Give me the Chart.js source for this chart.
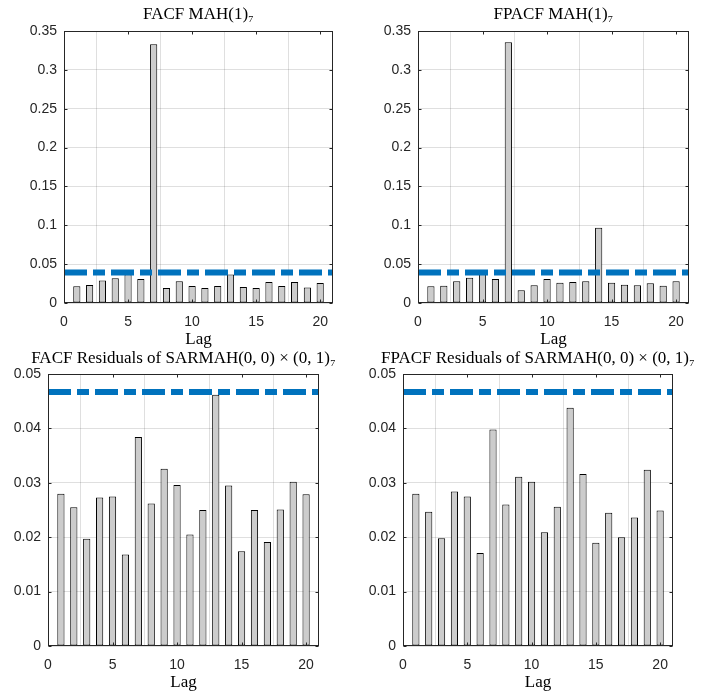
<!DOCTYPE html>
<html>
<head>
<meta charset="utf-8">
<script src="https://cdn.jsdelivr.net/npm/chart.js@4.4.1/dist/chart.umd.min.js"></script>
<style>
  html, body { margin: 0; padding: 0; background: #fff; }
  body { width: 705px; height: 691px; position: relative; overflow: hidden; }
  .panel { position: absolute; }
</style>
</head>
<body>
<!-- each panel box is centred on its plot area so the title centres over the axes -->
<div class="panel" style="left:18px;top:0;width:361px;height:348px"><canvas id="c1"></canvas></div>
<div class="panel" style="left:373px;top:0;width:361px;height:348px"><canvas id="c2"></canvas></div>
<div class="panel" style="left:3px;top:343px;width:361px;height:348px"><canvas id="c3"></canvas></div>
<div class="panel" style="left:357px;top:343px;width:362px;height:348px"><canvas id="c4"></canvas></div>
<script>
// lags and values
const lags = [1, 2, 3, 4, 5, 6, 7, 8, 9, 10, 11, 12, 13, 14, 15, 16, 17, 18, 19, 20];
const facfMah = [0.0214, 0.0231, 0.0291, 0.0317, 0.037, 0.0308, 0.333, 0.0193, 0.0279, 0.0219,
                 0.0193, 0.0219, 0.0368, 0.0206, 0.0193, 0.027, 0.0219, 0.027, 0.0201, 0.0257];
const fpacfMah = [0.0214, 0.0223, 0.0279, 0.0326, 0.037, 0.0308, 0.3355, 0.0163, 0.0227, 0.0308,
                  0.0261, 0.027, 0.0279, 0.0968, 0.0261, 0.0236, 0.0227, 0.0253, 0.0223, 0.0279];
const facfRes = [0.0280, 0.0255, 0.0197, 0.0273, 0.0275, 0.0168, 0.0384, 0.0262, 0.0326, 0.0296,
                 0.0205, 0.0250, 0.0462, 0.0295, 0.0174, 0.0250, 0.0191, 0.0251, 0.0302, 0.0279];
const fpacfRes = [0.0280, 0.0247, 0.0198, 0.0284, 0.0275, 0.0171, 0.0398, 0.0260, 0.0311, 0.0302,
                  0.0209, 0.0256, 0.0438, 0.0316, 0.0190, 0.0245, 0.0200, 0.0236, 0.0324, 0.0249];
const bounds = [0.0394, 0.0394, 0.0467, 0.0467]; // dashed confidence bound per panel
const boundSpan = [0, 21];
const titles = [
  "FACF MAH(1)\u2087",
  "FPACF MAH(1)\u2087",
  "FACF Residuals of SARMAH(0, 0) \u00d7 (0, 1)\u2087",
  "FPACF Residuals of SARMAH(0, 0) \u00d7 (0, 1)\u2087"
];
const yMax = [0.35, 0.35, 0.05, 0.05];
const yStep = [0.05, 0.05, 0.01, 0.01];

Chart.defaults.font.family = "'Liberation Sans', Arial, sans-serif";
Chart.defaults.color = "#262626";

// box around the axes with inward ticks on all four sides (matlab style)
const framePlugin = {
  id: "frame",
  afterDraw(chart) {
    const { ctx, chartArea: a, scales } = chart;
    const L = Math.round(a.left) + 0.5, R = Math.round(a.right) - 0.5;
    const T = Math.round(a.top) + 0.5, B = Math.round(a.bottom) - 0.5;
    ctx.save();
    ctx.strokeStyle = "#262626";
    ctx.lineWidth = 1;
    ctx.strokeRect(L, T, R - L, B - T);
    ctx.beginPath();
    scales.x.ticks.forEach(t => {
      const px = Math.round(scales.x.getPixelForValue(t.value)) + 0.5;
      ctx.moveTo(px, B); ctx.lineTo(px, B - 3);
      ctx.moveTo(px, T); ctx.lineTo(px, T + 3);
    });
    scales.y.ticks.forEach(t => {
      const py = Math.round(scales.y.getPixelForValue(t.value)) + 0.5;
      ctx.moveTo(L, py); ctx.lineTo(L + 3, py);
      ctx.moveTo(R, py); ctx.lineTo(R - 3, py);
    });
    ctx.stroke();
    ctx.restore();
  }
};

function makePanel(id, i, values, yAxisWidth, padRight, titlePad) {
  const ctx = document.getElementById(id).getContext("2d");
  return new Chart(ctx, {
    type: "bar",
    data: {
      datasets: [
        {
          type: "line",
          data: boundSpan.map(x => ({ x: x, y: bounds[i] })),
          borderColor: "#0072BD",
          borderWidth: 6,
          borderDash: [23, 6, 12, 6],
          borderCapStyle: "butt",
          pointRadius: 0,
          fill: false,
          order: 0
        },
        {
          type: "bar",
          data: lags.map((x, k) => ({ x: x, y: values[k] })),
          backgroundColor: "#cccccc",
          borderColor: "#000000",
          borderWidth: 1,
          borderSkipped: false,
          barPercentage: 0.56,
          categoryPercentage: 1,
          order: 1
        }
      ]
    },
    options: {
      responsive: true,
      maintainAspectRatio: false,
      animation: false,
      layout: { padding: 0 },
      plugins: {
        legend: { display: false },
        tooltip: { enabled: false },
        title: {
          display: true,
          text: titles[i],
          color: "#000000",
          font: { family: "'Liberation Serif', 'DejaVu Serif', serif", size: 17, weight: "normal", lineHeight: 1 },
          padding: titlePad
        }
      },
      scales: {
        x: {
          type: "linear",
          min: 0,
          max: 21,
          offset: false,
          grid: { color: "rgba(38,38,38,0.15)", drawTicks: false },
          border: { display: false },
          ticks: { stepSize: 5, includeBounds: false, padding: 11, font: { size: 14 }, maxRotation: 0 },
          title: {
            display: true,
            text: "Lag",
            color: "#000000",
            font: { family: "'Liberation Serif', 'DejaVu Serif', serif", size: 17, lineHeight: 1 },
            padding: { top: 0, bottom: 0 }
          },
          afterFit(scale) { scale.height = 45; }
        },
        y: {
          min: 0,
          max: yMax[i],
          grid: { color: "rgba(38,38,38,0.15)", drawTicks: false },
          border: { display: false },
          ticks: {
            stepSize: yStep[i],
            padding: 7,
            font: { size: 14 },
            callback: v => String(Math.round(v * 10000) / 10000)
          },
          afterFit(scale) { scale.width = yAxisWidth; }
        },
        // empty right-hand axis, only there to keep the plot area centred under the title
        spacer: {
          type: "linear",
          position: "right",
          grid: { display: false },
          border: { display: false },
          ticks: { display: false },
          afterFit(scale) { scale.width = padRight; }
        }
      }
    },
    plugins: [framePlugin]
  });
}

makePanel("c1", 0, facfMah, 46, 46, { top: 6, bottom: 8 });
makePanel("c2", 1, fpacfMah, 45, 45, { top: 6, bottom: 8 });
makePanel("c3", 2, facfRes, 45, 45, { top: 7, bottom: 7 });
makePanel("c4", 3, fpacfRes, 46, 46, { top: 7, bottom: 7 });
</script>
</body>
</html>
